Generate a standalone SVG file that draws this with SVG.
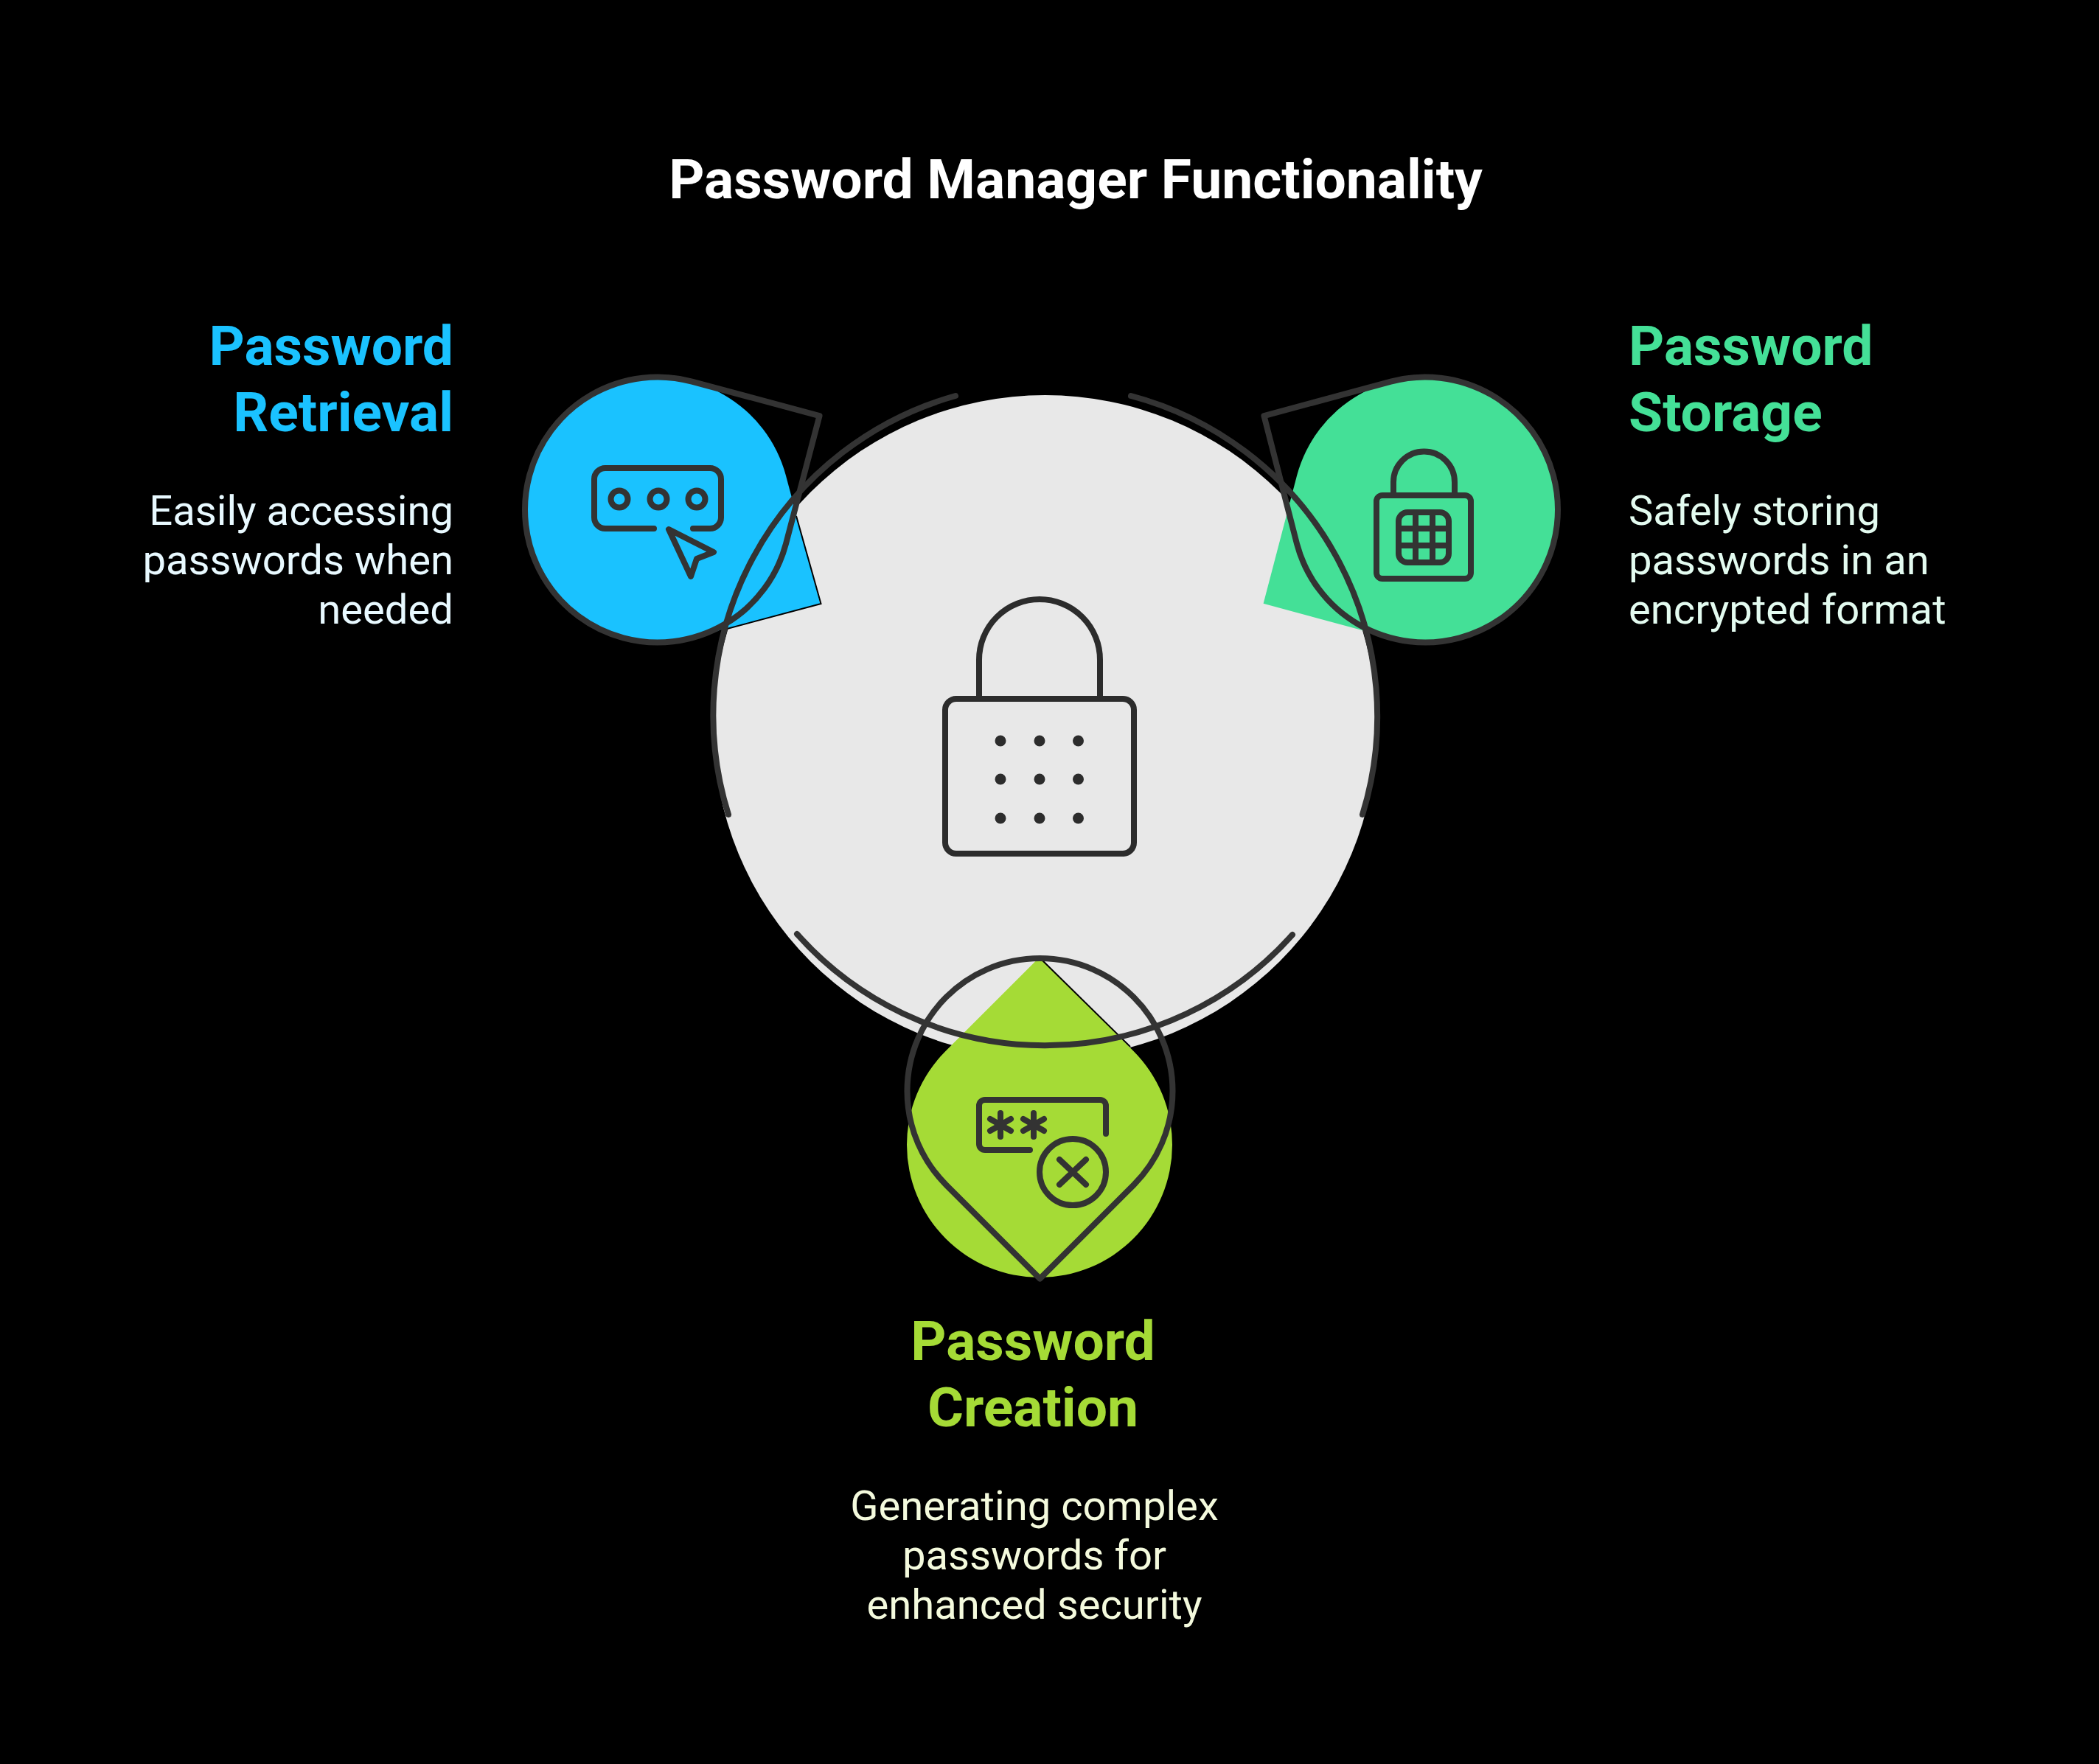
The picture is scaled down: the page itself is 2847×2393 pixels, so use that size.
<svg xmlns="http://www.w3.org/2000/svg" width="2847" height="2393" viewBox="0 0 2847 2393">
<style>
.s{fill:none;stroke:#333;stroke-width:8;stroke-linecap:round;stroke-linejoin:round}
.d{stroke:#2c2c2c}
.t{font-family:Roboto,"Liberation Sans",sans-serif}
.h{font-weight:700;font-size:75px}
.b{font-size:56.2px}
.e{text-anchor:end}.m{text-anchor:middle}
.k{stroke:#000;stroke-width:2;fill:none}
</style>
<rect width="2847" height="2393" fill="#000"/>
<g id="title"><text class="t h m" x="1459" y="269" fill="#fff">Password Manager Functionality</text></g>
<g id="hub">
<circle cx="1417.5" cy="986" r="450" fill="#e8e8e8"/>
</g>
<g id="retrieval">
<path d="M1112.4 818.8L938.6 865.4A180 180 0 1 1 1065.9 645Z" fill="#1ac2ff"/>
<path class="k" d="M1080 700L1113.5 819L975 856"/>
</g>
<g id="storage">
<path d="M1713.6 818.8L1886.4 865.4A180 180 0 1 0 1759.1 645Z" fill="#44e097"/>
</g>
<g id="creation">
<path d="M1410 1298.5L1537.3 1425.7A180 180 0 1 1 1282.7 1425.7Z" fill="#a5db36"/>
<path class="k" d="M1411 1300L1533 1420"/>
</g>
<g id="connectors">
<path class="s" d="M988 1105A450 450 0 0 1 1296 537"/>
<path class="s" d="M1534 537A450 450 0 0 1 1848 1105"/>
<path class="s" d="M1753 1268A450 450 0 0 1 1081 1267"/>
<path class="s" d="M1111.5 564.2L938.6 517.6A180 180 0 1 0 1065.9 738Z"/>
<path class="s" d="M1714.5 564.2L1886.4 517.6A180 180 0 1 1 1759.1 738Z"/>
<path class="s" d="M1410.5 1734.6L1283.2 1607.3A180 180 0 1 1 1537.8 1607.3Z"/>
</g>
<g id="hub-icon">
<path class="s d" d="M1328 948V895A82 82 0 0 1 1492 895V948"/>
<rect class="s d" x="1282" y="948" width="256" height="210" rx="15"/>
<g fill="#2c2c2c">
<circle cx="1357" cy="1005" r="7.5"/><circle cx="1410" cy="1005" r="7.5"/><circle cx="1462.5" cy="1005" r="7.5"/>
<circle cx="1357" cy="1057" r="7.5"/><circle cx="1410" cy="1057" r="7.5"/><circle cx="1462.5" cy="1057" r="7.5"/>
<circle cx="1357" cy="1110" r="7.5"/><circle cx="1410" cy="1110" r="7.5"/><circle cx="1462.5" cy="1110" r="7.5"/>
</g>
</g>
<g id="retrieval-icon">
<path class="s" d="M887 717H821A15 15 0 0 1 806 702V650A15 15 0 0 1 821 635H963A15 15 0 0 1 978 650V702A15 15 0 0 1 963 717H940"/>
<circle class="s" cx="840" cy="677" r="11.5"/><circle class="s" cx="893" cy="677" r="11.5"/><circle class="s" cx="945" cy="677" r="11.5"/>
<path class="s" d="M907 718L968 749L945 758L937 782Z"/>
</g>
<g id="storage-icon">
<path class="s" d="M1890 672V654A41.5 41.5 0 0 1 1973 654V672"/>
<rect class="s" x="1867" y="672" width="128" height="113" rx="8"/>
<rect class="s" x="1897" y="695" width="68" height="68" rx="12"/>
<path class="s" d="M1920 695V763M1943 695V763M1897 717H1965M1897 740H1965"/>
</g>
<g id="creation-icon">
<path class="s" d="M1397 1560H1336A8 8 0 0 1 1328 1552V1500A8 8 0 0 1 1336 1492H1492A8 8 0 0 1 1500 1500V1538"/>
<circle class="s" cx="1455" cy="1590" r="45"/>
<path class="s" d="M1437 1573L1473 1607M1473 1573L1437 1607"/>
<path class="s" d="M1357 1510V1542M1343 1518L1371 1534M1371 1518L1343 1534M1402 1510V1542M1388 1518L1416 1534M1416 1518L1388 1534"/>
</g>
<g id="retrieval-label">
<text class="t h e" x="615" y="495" fill="#1ac2ff">Password</text>
<text class="t h e" x="615" y="585" fill="#1ac2ff">Retrieval</text>
<text class="t b e" x="615" y="712" fill="#e8f9ff">Easily accessing</text>
<text class="t b e" x="615" y="779" fill="#e8f9ff">passwords when</text>
<text class="t b e" x="615" y="846" fill="#e8f9ff">needed</text>
</g>
<g id="storage-label">
<text class="t h" x="2209" y="495" fill="#44e097">Password</text>
<text class="t h" x="2209" y="585" fill="#44e097">Storage</text>
<text class="t b" x="2209" y="712" fill="#e3fbf0">Safely storing</text>
<text class="t b" x="2209" y="779" fill="#e3fbf0">passwords in an</text>
<text class="t b" x="2209" y="846" fill="#e3fbf0">encrypted format</text>
</g>
<g id="creation-label">
<text class="t h m" x="1401" y="1845" fill="#a5db36">Password</text>
<text class="t h m" x="1401" y="1935" fill="#a5db36">Creation</text>
<text class="t b m" x="1403" y="2062" fill="#f4fadd">Generating complex</text>
<text class="t b m" x="1403" y="2129" fill="#f4fadd">passwords for</text>
<text class="t b m" x="1403" y="2196" fill="#f4fadd">enhanced security</text>
</g>
</svg>
